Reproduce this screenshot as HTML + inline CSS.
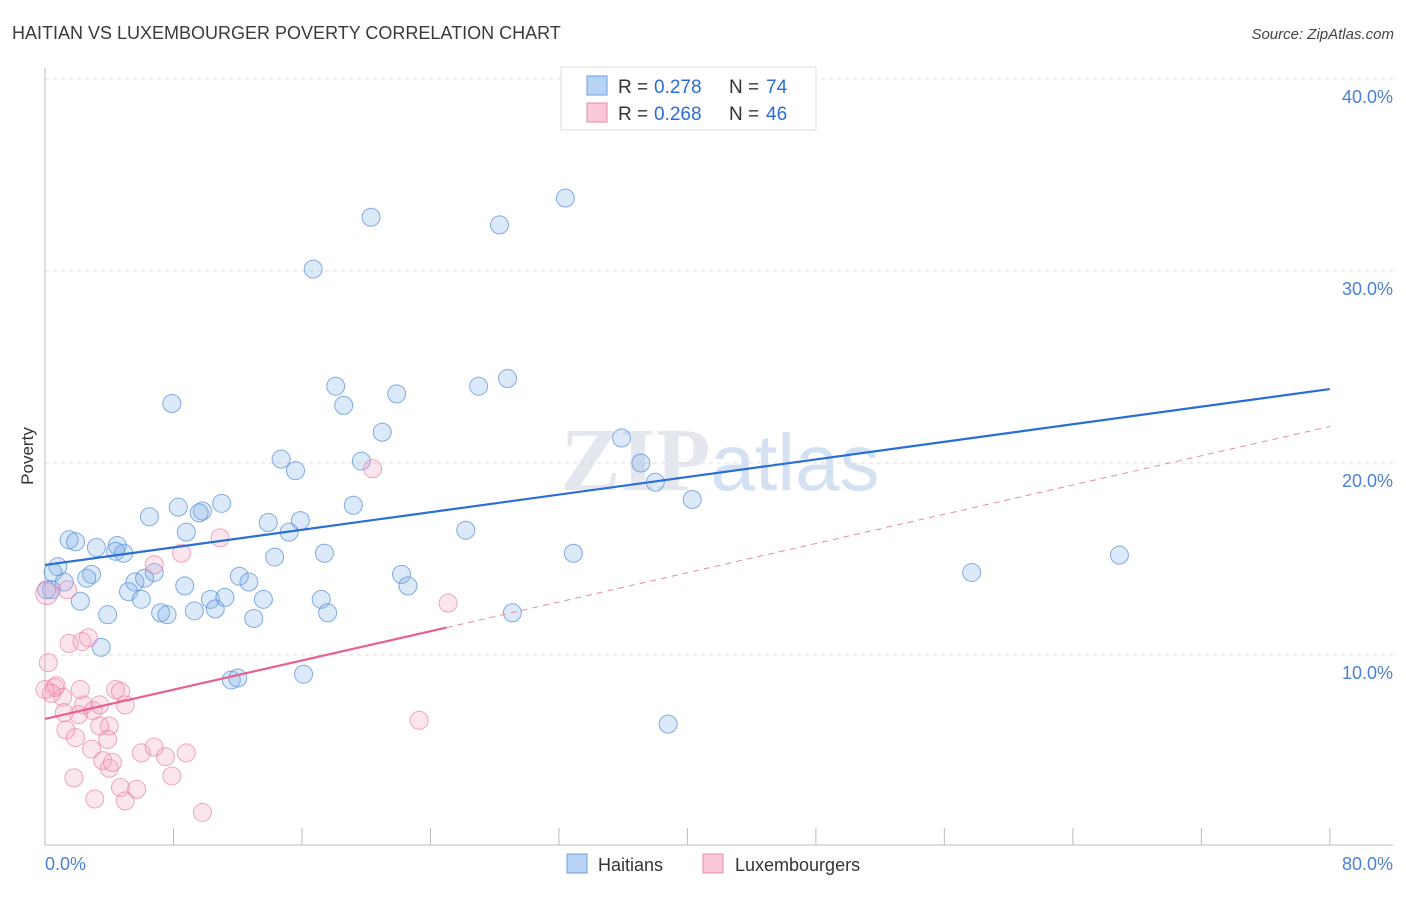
<!DOCTYPE html>
<html><head><meta charset="utf-8"><style>
body{margin:0;background:#fff;font-family:"Liberation Sans",sans-serif}
</style></head><body>
<svg id="c" width="1406" height="892" xmlns="http://www.w3.org/2000/svg" style="font-family:'Liberation Sans',sans-serif">
<text x="12" y="39" font-size="18" fill="#3a3a3a">HAITIAN VS LUXEMBOURGER POVERTY CORRELATION CHART</text>
<text x="1394" y="39" font-size="15" fill="#444" text-anchor="end" font-style="italic">Source: ZipAtlas.com</text>
<text x="720" y="490" font-size="90" text-anchor="middle" fill="#e4e8ee" font-family="Liberation Serif" font-weight="bold">ZIP<tspan fill="#d3e1f3" font-family="Liberation Sans" font-weight="normal" font-size="80">atlas</tspan></text>
<g id="grid"></g>
<line x1="45" y1="68" x2="45" y2="845" stroke="#bbb"/>
<line x1="45" y1="845" x2="1393" y2="845" stroke="#bbb"/>
<text transform="translate(33,456) rotate(-90)" font-size="17" fill="#333" text-anchor="middle">Poverty</text>
<text x="45" y="870" font-size="18" fill="#4a7fd6">0.0%</text>
<text x="1393" y="870" font-size="18" fill="#4a7fd6" text-anchor="end">80.0%</text>
<g id="pts"></g>
<g id="lines"></g>
<g>
<rect x="561" y="67" width="255" height="63" fill="#fff" stroke="#ddd"/>
<rect x="587" y="76" width="20" height="19" fill="#b9d3f5" stroke="#6a9fe0"/>
<rect x="587" y="103" width="20" height="19" fill="#fbc9d8" stroke="#e88aa8"/>
<text x="618" y="93" font-size="19" fill="#333">R = </text><text x="654" y="93" font-size="19" fill="#2a6dd6">0.278</text>
<text x="729" y="93" font-size="19" fill="#333">N = </text><text x="766" y="93" font-size="19" fill="#2a6dd6">74</text>
<text x="618" y="120" font-size="19" fill="#333">R = </text><text x="654" y="120" font-size="19" fill="#2a6dd6">0.268</text>
<text x="729" y="120" font-size="19" fill="#333">N = </text><text x="766" y="120" font-size="19" fill="#2a6dd6">46</text>
</g>
<g>
<rect x="567" y="854" width="20" height="19" fill="#b9d3f5" stroke="#6a9fe0"/>
<text x="598" y="871" font-size="18" fill="#333">Haitians</text>
<rect x="703" y="854" width="20" height="19" fill="#fbc9d8" stroke="#e88aa8"/>
<text x="735" y="871" font-size="18" fill="#333">Luxembourgers</text>
</g>
</svg>
<script>
const yTicks=[10,20,30,40];
const xTicks=[0,8,16,24,32,40,48,56,64,72,80];
const blueX=[32.4,20.3,28.3,16.7,18.1,21.9,27.0,28.8,7.9,18.6,21.0,35.9,14.7,19.7,15.6,37.1,38.0,40.3,6.5,8.3,9.8,9.6,11.0,13.9,15.9,15.2,8.8,19.2,26.2,1.5,1.9,3.2,4.5,4.4,4.9,14.3,17.4,32.9,66.9,57.7,0.8,0.5,2.9,2.6,1.2,0.4,0.1,5.6,6.2,6.8,8.7,12.1,12.7,5.2,6.0,2.2,3.9,7.2,7.6,9.3,10.3,10.6,11.2,13.6,13.0,17.2,17.6,22.2,22.6,29.1,3.5,11.6,12.0,16.1,38.8];
const blueY=[33.8,32.8,32.4,30.1,24.0,23.6,24.0,24.4,23.1,23.0,21.6,21.3,20.2,20.1,19.6,20.0,19.0,18.1,17.2,17.7,17.5,17.4,17.9,16.9,17.0,16.4,16.4,17.8,16.5,16.0,15.9,15.6,15.7,15.4,15.3,15.1,15.3,15.3,15.2,14.3,14.6,14.3,14.2,14.0,13.8,13.4,13.4,13.8,14.0,14.3,13.6,14.1,13.8,13.3,12.9,12.8,12.1,12.2,12.1,12.3,12.9,12.4,13.0,12.9,11.9,12.9,12.2,14.2,13.6,12.2,10.4,8.7,8.8,9.0,6.4];
const pinkX=[0.1,1.4,0.2,0.6,0.7,1.1,0.4,0,1.5,2.3,2.7,6.8,8.5,10.9,25.1,20.4,2.1,1.3,1.9,2.4,3.0,3.4,4.4,4.7,5.0,4.0,3.4,2.9,3.6,4.0,4.7,5.7,5.0,3.1,1.8,6.0,6.8,7.5,8.8,7.9,9.8,23.3,1.2,2.2,3.9,4.2];
const pinkY=[13.2,13.4,9.6,8.3,8.4,7.8,8.0,8.2,10.6,10.7,10.9,14.7,15.3,16.1,12.7,19.7,6.9,6.1,5.7,7.4,7.1,7.4,8.2,8.1,7.4,6.3,6.3,5.1,4.5,4.1,3.1,3.0,2.4,2.5,3.6,4.9,5.2,4.7,4.9,3.7,1.8,6.6,7.0,8.2,5.6,4.4];
const blueLine=[14.69,23.85];
const pinkLine=[6.67,21.9];
const pinkSolidEnd=25;
const NS='http://www.w3.org/2000/svg';
const X=v=>45+v*16.06, Y=v=>847-v*19.2;
function mk(t,a,p){const e=document.createElementNS(NS,t);for(const k in a)e.setAttribute(k,a[k]);document.getElementById(p).appendChild(e);return e;}
yTicks.forEach(t=>{const l=mk('line',{x1:45,x2:1393,y1:Y(t),y2:Y(t),stroke:'#ddd','stroke-dasharray':'4,4'},'grid');


const tx=mk('text',{x:1393,y:Y(t)+24,'font-size':18,fill:'#4a7fd6','text-anchor':'end'},'grid');tx.textContent=t.toFixed(1)+'%';

});
xTicks.forEach(t=>{const l=mk('line',{x1:X(t),x2:X(t),y1:828,y2:845,stroke:'#bbb'},'grid');

});
blueX.forEach((v,i)=>{const c=mk('circle',{cx:X(v),cy:Y(blueY[i]),r:9,fill:'rgba(130,175,235,0.28)',stroke:'rgba(90,145,220,0.75)','stroke-width':1},'pts');

});
pinkX.forEach((v,i)=>{const c=mk('circle',{cx:X(v),cy:Y(pinkY[i]),r:i==0?11:9,fill:'rgba(245,165,195,0.28)',stroke:'rgba(232,130,165,0.7)','stroke-width':1},'pts');

});
const pAt=x=>pinkLine[0]+(pinkLine[1]-pinkLine[0])*x/80;
let l=mk('line',{x1:X(0),y1:Y(blueLine[0]),x2:X(80),y2:Y(blueLine[1]),stroke:'#2a6dd6','stroke-width':2.2},'lines');


l=mk('line',{x1:X(pinkSolidEnd),y1:Y(pAt(pinkSolidEnd)),x2:X(80),y2:Y(pinkLine[1]),stroke:'#e88aa8','stroke-width':1,'stroke-dasharray':'6,5'},'lines');


l=mk('line',{x1:X(0),y1:Y(pinkLine[0]),x2:X(pinkSolidEnd),y2:Y(pAt(pinkSolidEnd)),stroke:'#e8608e','stroke-width':2.2},'lines');


</script>
</body></html>
